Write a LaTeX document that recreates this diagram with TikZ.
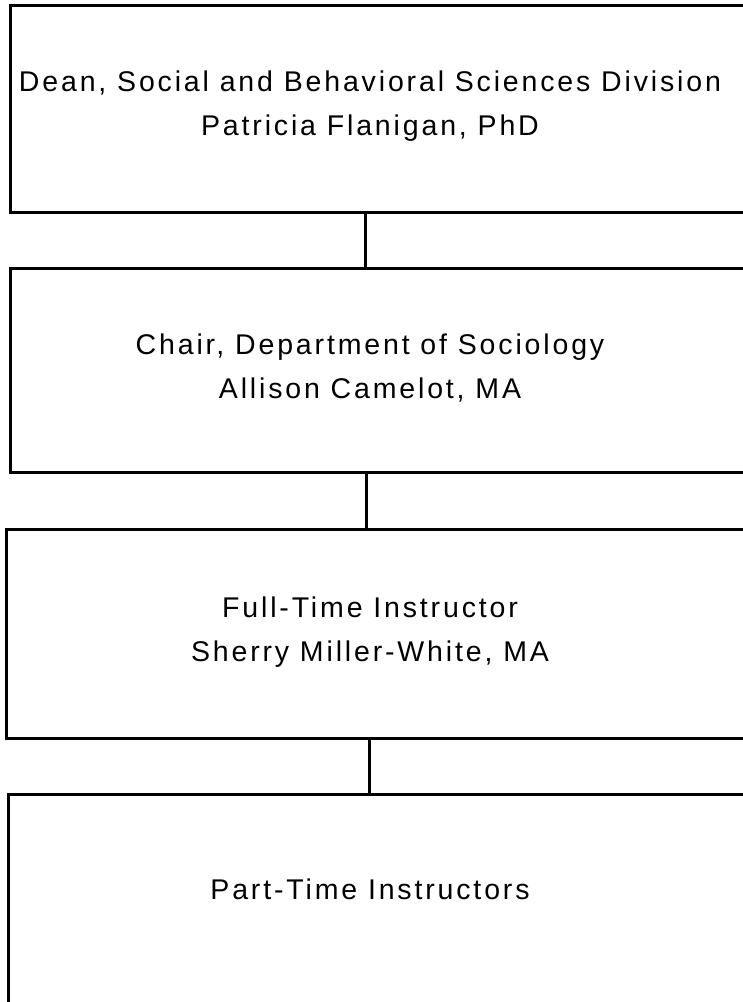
\documentclass[tikz,border=0pt]{standalone}
\usepackage{fontspec}
\setmainfont{Liberation Sans}
\newfontfamily\spacedfont[LetterSpace=10]{Liberation Sans}
\usetikzlibrary{positioning,calc}

\begin{document}
\begin{tikzpicture}[x=1pt, y=-1pt]
\tikzstyle{unit} = [draw=black, line width=3pt, rectangle, anchor=north west, minimum width=800pt, inner sep=0pt];
\tikzstyle{lbl} = [font=\spacedfont\fontsize{28.5}{44}\selectfont, align=center];

\useasboundingbox (0, 0) rectangle (743, 1002);
\clip (0, 0) rectangle (743, 1002);

% boxes
\node[unit, minimum height=207pt] (dean) at (9, 4) {};
\node[unit, minimum height=204pt] (chair) at (9, 267) {};
\node[unit, minimum height=209pt] (full) at (5, 528) {};
\node[unit, minimum height=260pt] (part) at (7, 793) {};

% labels
\node[lbl] (deanlbl) at (370, 106) {Dean, Social and Behavioral Sciences Division\\Patricia Flanigan, PhD};
\node[lbl] (chairlbl) at (370, 368) {Chair, Department of Sociology\\Allison Camelot, MA};
\node[lbl] (fulllbl) at (370, 632) {Full-Time Instructor\\Sherry Miller-White, MA};
\node[lbl] (partlbl) at (370, 889) {Part-Time Instructors};

% connectors
\coordinate (c1) at (365, 0);
\coordinate (c2) at (366, 0);
\coordinate (c3) at (369, 0);
\draw[line width=3pt] (dean.south -| c1) -- (chair.north -| c1);
\draw[line width=3pt] (chair.south -| c2) -- (full.north -| c2);
\draw[line width=3pt] (full.south -| c3) -- (part.north -| c3);
\end{tikzpicture}
\end{document}
